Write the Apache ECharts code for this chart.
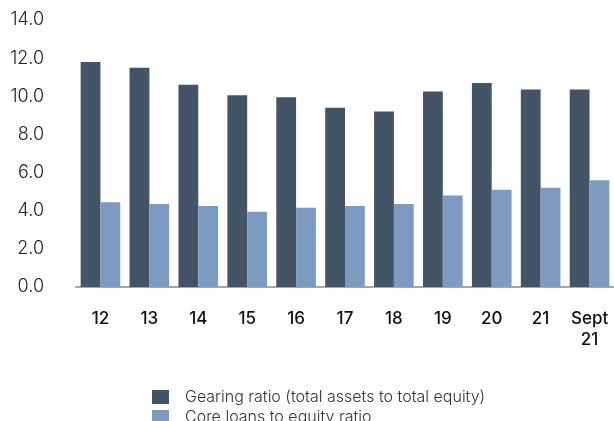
<!DOCTYPE html>
<html style="height: 100%; margin: 0; padding: 0;">
<head>
    <meta charset="utf-8">
    <title>Gearing ratio</title>
    <script src="https://cdn.jsdelivr.net/npm/echarts@6/dist/echarts.min.js"></script>
    <style>
        body, html {
            height: 100%;
            margin: 0;
            padding: 0;
            background-color: #ffffff;
        }
        #main {
            height: 421px;
            width: 614px;
        }
    </style>
</head>
<body>
<div id="main"></div>
<script type="text/javascript">
    // data
    var categories = ['12', '13', '14', '15', '16', '17', '18', '19', '20', '21', 'Sept\n21'];
    var gearingRatio = [11.8, 11.5, 10.6, 10.05, 9.95, 9.4, 9.2, 10.25, 10.7, 10.35, 10.35];
    var coreLoansRatio = [4.45, 4.35, 4.25, 3.95, 4.15, 4.25, 4.35, 4.8, 5.1, 5.2, 5.6];
    var seriesNames = ['Gearing ratio (total assets to total equity)', 'Core loans to equity ratio'];

    var myChart = echarts.init(document.getElementById('main'));

    var option = {
        animation: false,
        textStyle: { fontFamily: 'Inter' },
        grid: {
            left: 76,
            right: -7,
            top: 20,
            bottom: 134
        },
        legend: {
            orient: 'vertical',
            left: 147,
            top: 384,
            height: 80,
            itemWidth: 17,
            itemHeight: 14,
            itemGap: 4,
            icon: 'rect',
            textStyle: {
                fontSize: 16,
                fontWeight: 300,
                color: '#333333',
                lineHeight: 14,
                padding: [0, 0, 0, 11]
            },
            data: seriesNames
        },
        xAxis: {
            type: 'category',
            data: categories,
            axisTick: { show: false },
            axisLine: { lineStyle: { color: '#a6a6a6', width: 2 } },
            axisLabel: {
                color: '#111111',
                fontSize: 17,
                fontWeight: 500,
                margin: 21,
                lineHeight: 21,
                interval: 0
            }
        },
        yAxis: {
            type: 'value',
            min: 0,
            max: 14,
            interval: 2,
            splitLine: { show: false },
            axisLabel: {
                color: '#222222',
                fontSize: 18,
                fontWeight: 300,
                margin: 32,
                formatter: function (v) { return v.toFixed(1); }
            }
        },
        series: [
            {
                name: seriesNames[0],
                type: 'bar',
                data: gearingRatio,
                barGap: '0%',
                barCategoryGap: '19%',
                itemStyle: { color: '#425466' }
            },
            {
                name: seriesNames[1],
                type: 'bar',
                data: coreLoansRatio,
                itemStyle: { color: '#7d9bc1' }
            }
        ]
    };

    myChart.setOption(option);
</script>
</body>
</html>
